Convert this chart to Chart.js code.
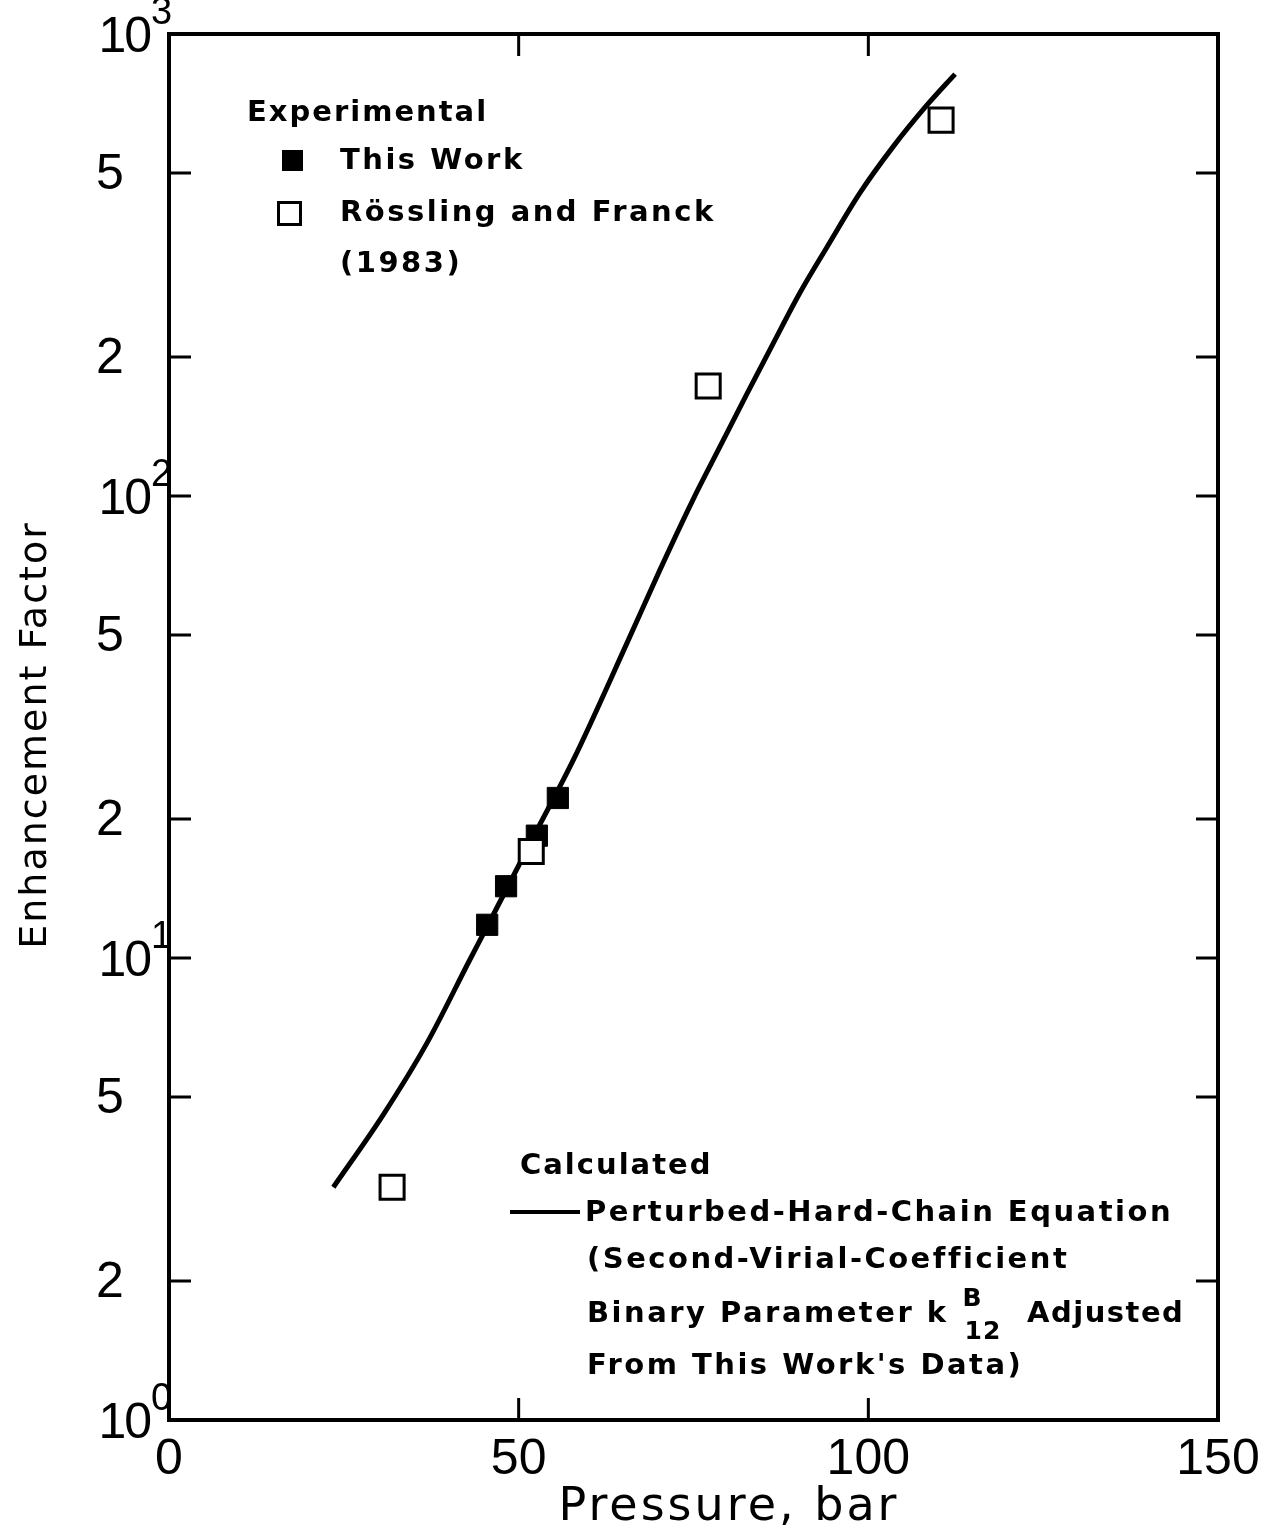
<!DOCTYPE html>
<html>
<head>
<meta charset="utf-8">
<script src="https://cdn.jsdelivr.net/npm/chart.js@4.4.0/dist/chart.umd.min.js"></script>
<style>
  body { margin: 0; background: #fff; }
  #wrap { position: relative; width: 1267px; height: 1535px; }
</style>
</head>
<body>
<div id="wrap"><canvas id="myChart"></canvas></div>
<script>
// Experimental points (pressure in bar, enhancement factor)
const thisWorkP = [45.5, 48.2, 52.6, 55.6];
const thisWorkE = [11.8, 14.3, 18.4, 22.2];
const rosslingP = [31.9, 51.8, 77.1, 110.4];
const rosslingE = [3.19, 17.0, 173, 651];

// Calculated curve
const calcP = [23.5, 30.6, 36.9, 43.0, 45.5, 52.6, 57.8, 65.5, 70.2, 74.9, 78.8, 82.6, 86.4, 90.2, 94.1, 98.8, 103.5, 108.4, 112.4];
const calcE = [3.19, 4.57, 6.55, 9.9, 11.7, 18.9, 26.8, 48.1, 69.2, 98.0, 128, 166, 214, 275, 346, 453, 569, 702, 819];

// Axis ticks
const xTicks = [0, 50, 100, 150];
const xTickLabels = ['0', '50', '100', '150'];
const yTicks = [1, 2, 5, 10, 20, 50, 100, 200, 500, 1000];
const yTickLabels = ['10^0', '2', '5', '10^1', '2', '5', '10^2', '2', '5', '10^3'];

function toPoints(xs, ys) {
    return xs.map((x, i) => ({ x: x, y: ys[i] }));
}

// draw text with letter spacing (if canvas supports it)
function drawText(ctx, str, x, y, font, align, spacing) {
    ctx.font = font;
    ctx.textAlign = align || 'left';
    ctx.textBaseline = 'middle';
    ctx.letterSpacing = (spacing || 0) + 'px';
    ctx.fillText(str, x, y);
    ctx.letterSpacing = '0px';
}

const labelFont = 'bold 29px "DejaVu Sans"';
const numFont = '50px "Liberation Sans"';

const decorations = {
    id: 'decorations',
    afterDraw(chart) {
        const ctx = chart.ctx;
        const area = chart.chartArea;
        const xs = chart.scales.x;
        const ys = chart.scales.y;
        ctx.save();
        ctx.fillStyle = '#000';
        ctx.strokeStyle = '#000';

        // frame
        ctx.lineWidth = 4;
        ctx.strokeRect(area.left, area.top, area.right - area.left, area.bottom - area.top);

        // inward tick marks
        ctx.lineWidth = 3;
        ctx.beginPath();
        yTicks.forEach((v) => {
            if (v === yTicks[0] || v === yTicks[yTicks.length - 1]) return;
            const py = ys.getPixelForValue(v);
            ctx.moveTo(area.left, py);
            ctx.lineTo(area.left + 22, py);
            ctx.moveTo(area.right, py);
            ctx.lineTo(area.right - 22, py);
        });
        xTicks.forEach((v) => {
            if (v === xTicks[0] || v === xTicks[xTicks.length - 1]) return;
            const px = xs.getPixelForValue(v);
            ctx.moveTo(px, area.bottom);
            ctx.lineTo(px, area.bottom - 22);
            ctx.moveTo(px, area.top);
            ctx.lineTo(px, area.top + 22);
        });
        ctx.stroke();

        // x tick labels
        xTicks.forEach((v, i) => {
            drawText(ctx, xTickLabels[i], xs.getPixelForValue(v), area.bottom + 40, numFont, 'center', 0);
        });

        // y tick labels
        yTicks.forEach((v, i) => {
            const py = ys.getPixelForValue(v);
            const lab = yTickLabels[i];
            if (lab.indexOf('^') > -1) {
                const parts = lab.split('^');
                drawText(ctx, parts[0], 150, py + 4, numFont, 'right', -2);
                drawText(ctx, parts[1], 151, py - 20, '38px "Liberation Sans"', 'left', 0);
            } else {
                drawText(ctx, lab, 110, py + 2, numFont, 'center', 0);
            }
        });

        // axis titles
        drawText(ctx, 'Pressure, bar', 729, 1508, '46px "DejaVu Sans"', 'center', 3);
        ctx.save();
        ctx.translate(36, 735);
        ctx.rotate(-Math.PI / 2);
        drawText(ctx, 'Enhancement Factor', 0, 0, '38px "DejaVu Sans"', 'center', 2);
        ctx.restore();

        // legend (upper left)
        drawText(ctx, 'Experimental', 247, 113, labelFont, 'left', 2);
        ctx.fillRect(282, 150, 21, 21);
        drawText(ctx, 'This Work', 340, 161, labelFont, 'left', 2.5);
        ctx.lineWidth = 3;
        ctx.strokeRect(278.5, 202.5, 22, 22);
        drawText(ctx, 'Rössling and Franck', 340, 213, labelFont, 'left', 2.5);
        drawText(ctx, '(1983)', 340, 264, labelFont, 'left', 2.5);

        // legend (lower right)
        drawText(ctx, 'Calculated', 520, 1166, labelFont, 'left', 2);
        ctx.lineWidth = 4;
        ctx.beginPath();
        ctx.moveTo(510, 1212);
        ctx.lineTo(580, 1212);
        ctx.stroke();
        drawText(ctx, 'Perturbed-Hard-Chain Equation', 585, 1213, labelFont, 'left', 2.5);
        drawText(ctx, '(Second-Virial-Coefficient', 587, 1260, labelFont, 'left', 2.5);
        drawText(ctx, 'Binary Parameter k', 587, 1314, labelFont, 'left', 2.5);
        drawText(ctx, 'B', 972, 1299, 'bold 25px "DejaVu Sans"', 'center', 0);
        drawText(ctx, '12', 983, 1332, 'bold 25px "DejaVu Sans"', 'center', 1);
        drawText(ctx, 'Adjusted', 1027, 1314, labelFont, 'left', 1.5);
        drawText(ctx, "From This Work's Data)", 587, 1366, labelFont, 'left', 2.5);

        ctx.restore();
    }
};

const ctx = document.getElementById('myChart').getContext('2d');
const myChart = new Chart(ctx, {
    type: 'scatter',
    data: {
        datasets: [
            {
                label: 'Rössling and Franck (1983)',
                data: toPoints(rosslingP, rosslingE),
                pointStyle: 'rect',
                pointRadius: 17,
                backgroundColor: '#fff',
                borderColor: '#000',
                borderWidth: 3,
                order: 1
            },
            {
                label: 'This Work',
                data: toPoints(thisWorkP, thisWorkE),
                pointStyle: 'rect',
                pointRadius: 15,
                backgroundColor: '#000',
                borderColor: '#000',
                borderWidth: 1,
                order: 2
            },
            {
                type: 'line',
                label: 'Perturbed-Hard-Chain Equation',
                data: toPoints(calcP, calcE),
                borderColor: '#000',
                borderWidth: 5,
                pointRadius: 0,
                fill: false,
                cubicInterpolationMode: 'monotone',
                order: 3
            }
        ]
    },
    options: {
        responsive: true,
        maintainAspectRatio: false,
        animation: false,
        layout: { padding: { left: 0, right: 49, top: 34, bottom: 0 } },
        plugins: {
            legend: { display: false },
            tooltip: { enabled: false }
        },
        scales: {
            x: {
                type: 'linear',
                min: 0,
                max: 150,
                ticks: { display: false },
                grid: { display: false, drawTicks: false },
                border: { display: false },
                afterFit: (scale) => { scale.height = 115; }
            },
            y: {
                type: 'logarithmic',
                min: 1,
                max: 1000,
                ticks: { display: false },
                grid: { display: false, drawTicks: false },
                border: { display: false },
                afterFit: (scale) => { scale.width = 169; }
            }
        }
    },
    plugins: [decorations]
});
</script>
</body>
</html>
